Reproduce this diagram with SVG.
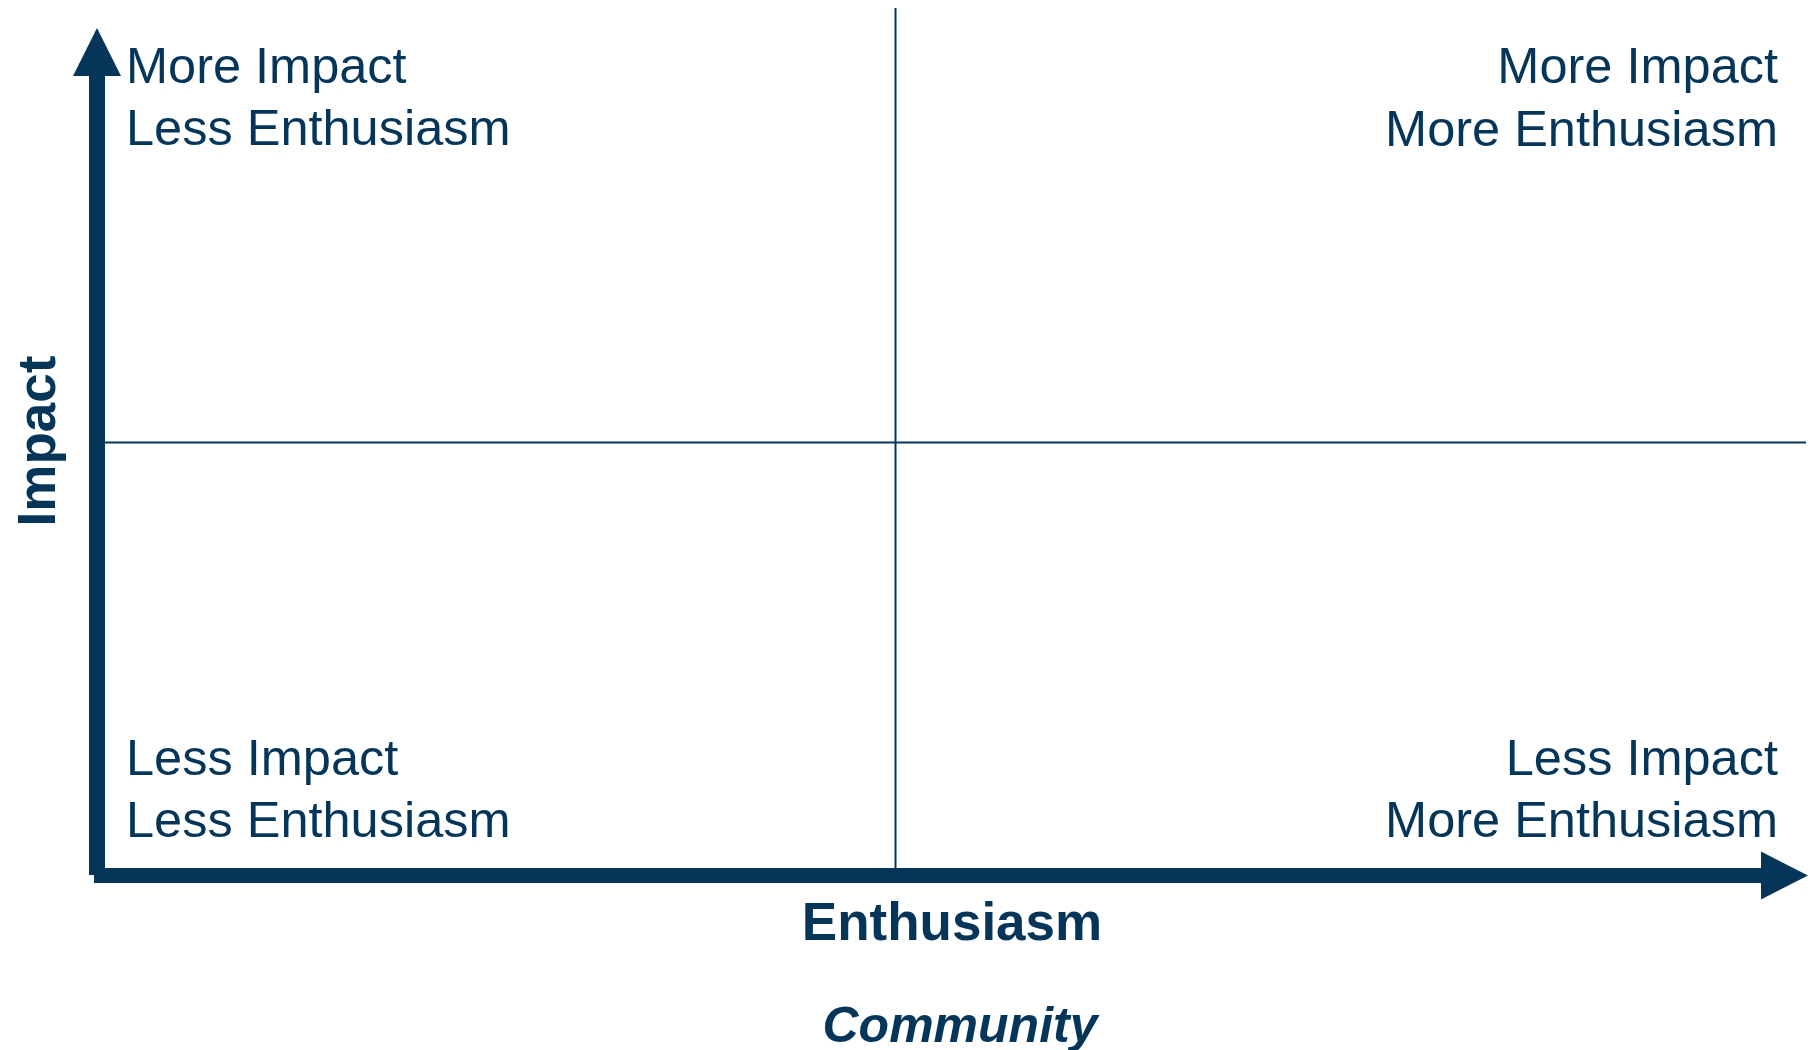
<svg xmlns="http://www.w3.org/2000/svg" width="1818" height="1050" viewBox="0 0 1818 1050">
  <style>
    .ink { fill: #05365a; }
    .grid { stroke: #05365a; stroke-width: 2; fill: none; }
    .quad { font-family: "Liberation Sans", Arial, sans-serif; font-size: 50.5px; fill: #05365a; }
    .axis { font-family: "Liberation Sans", Arial, sans-serif; font-size: 53px; font-weight: bold; fill: #05365a; }
    .title { font-family: "Liberation Sans", Arial, sans-serif; font-size: 50px; font-weight: bold; font-style: italic; fill: #05365a; }
  </style>
  <rect width="1818" height="1050" fill="#ffffff"/>

  <g id="connectors">
    <!-- quadrant dividers -->
    <line class="grid" x1="895.5" y1="8" x2="895.5" y2="868"/>
    <line class="grid" x1="105" y1="442.5" x2="1806" y2="442.5"/>
    <!-- vertical axis (Impact) -->
    <rect class="ink" x="89" y="74" width="16" height="801"/>
    <polygon class="ink" points="97,28 121,76 73,76"/>
    <!-- horizontal axis (Enthusiasm) -->
    <rect class="ink" x="94" y="868" width="1669" height="15"/>
    <polygon class="ink" points="1808,875.5 1761,851.5 1761,899.5"/>
  </g>

  <g id="q-top-left">
    <text class="quad" x="126" y="83">More Impact</text>
    <text class="quad" x="126" y="145">Less Enthusiasm</text>
  </g>
  <g id="q-top-right">
    <text class="quad" x="1778" y="83" text-anchor="end">More Impact</text>
    <text class="quad" x="1778" y="146" text-anchor="end">More Enthusiasm</text>
  </g>
  <g id="q-bottom-left">
    <text class="quad" x="126" y="775">Less Impact</text>
    <text class="quad" x="126" y="837">Less Enthusiasm</text>
  </g>
  <g id="q-bottom-right">
    <text class="quad" x="1778" y="775" text-anchor="end">Less Impact</text>
    <text class="quad" x="1778" y="837" text-anchor="end">More Enthusiasm</text>
  </g>

  <g id="label-impact">
    <text class="axis" x="55" y="441" text-anchor="middle" transform="rotate(-90 55 441)">Impact</text>
  </g>
  <g id="label-enthusiasm">
    <text class="axis" x="952" y="940" text-anchor="middle">Enthusiasm</text>
  </g>
  <g id="label-community">
    <text class="title" x="960" y="1042" text-anchor="middle">Community</text>
  </g>
</svg>
